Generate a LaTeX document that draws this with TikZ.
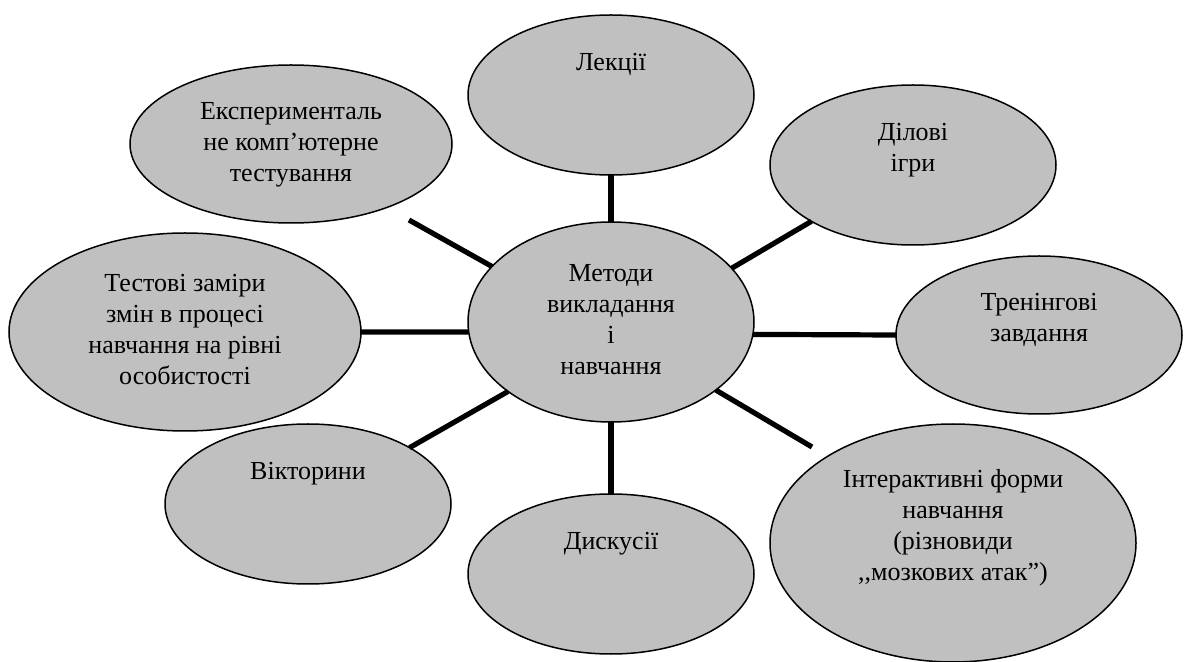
\documentclass[tikz,border=0pt]{standalone}
\usepackage{fontspec}
\setmainfont{Liberation Serif}
\usetikzlibrary{shapes.geometric}
\definecolor{ovalgrey}{RGB}{192,192,192}
\tikzset{
  oval/.style={ellipse, draw=black, line width=0.75pt, fill=ovalgrey,
    inner sep=0pt, outer sep=0pt, align=center,
    font=\fontsize{13}{15.5}\selectfont},
  link/.style={line width=2.6pt, draw=black}
}
\begin{document}
\begin{tikzpicture}[x=0.5pt,y=-0.5pt]
\useasboundingbox (0,0) rectangle (1184,662);
% nodes
\node[oval, minimum width=143pt, minimum height=100pt] (c) at (611,322)
  {\strut Методи\\\strut викладання\\\strut і\\\strut навчання};
\node[oval, minimum width=143pt, minimum height=80pt] (lek) at (611,95)
  {\strut Лекції\\\strut\\\strut};
\node[oval, minimum width=143pt, minimum height=80pt] (dil) at (913,165)
  {\strut Ділові\\\strut ігри\\\strut};
\node[oval, minimum width=143pt, minimum height=79pt] (tren) at (1039,335)
  {\strut Тренінгові\\\strut завдання\\\strut};
\node[oval, minimum width=183pt, minimum height=119pt] (inter) at (953,543)
  {\strut Інтерактивні форми\\\strut навчання\\\strut (різновиди\\\strut ,{},мозкових атак”)\\\strut};
\node[oval, minimum width=143pt, minimum height=80pt] (disk) at (611,574)
  {\strut Дискусії\\\strut\\\strut};
\node[oval, minimum width=143pt, minimum height=80pt] (vik) at (308,504)
  {\strut Вікторини\\\strut\\\strut};
\node[oval, minimum width=176pt, minimum height=99pt] (test) at (185,332)
  {\strut Тестові заміри\\\strut змін в процесі\\\strut навчання на рівні\\\strut особистості};
\node[oval, minimum width=161pt, minimum height=79pt] (exp) at (291,144)
  {\strut Експерименталь\\\strut не комп’ютерне\\\strut тестування};
% free ends of the connectors that stop short of their oval
\coordinate (interend) at (812,447);
\coordinate (expend) at (409,220);
% connectors
\draw[link] (c.90) -- (lek.-90);
\draw[link] (c.-90) -- (disk.90);
\draw[link] (c.24.8) -- (dil.209.7);
\draw[link] (c.-5) -- (tren.west);
\draw[link] (c.-33.8) -- (interend);
\draw[link] (c.214.6) -- (vik.29.2);
\draw[link] (c.184) -- (test.east);
\draw[link] (c.155.2) -- (expend);
\end{tikzpicture}
\end{document}
